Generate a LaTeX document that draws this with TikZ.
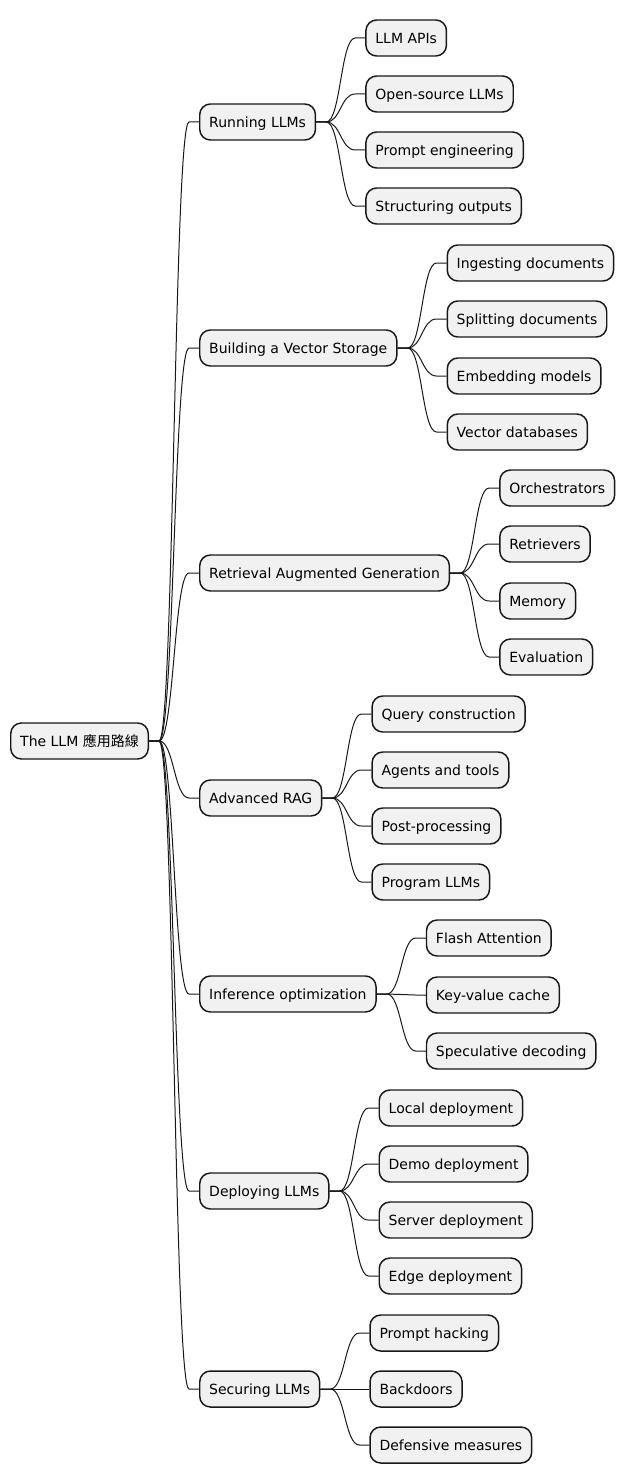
\documentclass[tikz,border=0pt]{standalone}
\usepackage{fontspec}
\setmainfont{DejaVu Sans}
\newfontfamily\cjkfont{Noto Sans CJK TC}
\usetikzlibrary{calc}

\definecolor{nodefill}{HTML}{F1F1F1}
\definecolor{nodeline}{HTML}{181818}

\tikzset{
  topic/.style={draw=nodeline, fill=nodefill, line width=1.1pt, rounded corners=8pt,
    anchor=west, minimum height=27pt, inner xsep=7.1pt, inner ysep=0pt,
    text height=7.65pt, text depth=0pt,
    font=\fontsize{10.5}{12}\selectfont},
  link/.style={draw=nodeline, line width=0.75pt},
}

% connector: short stub, S-curve, short stub
\newcommand\branch[2]{%
  \draw[link] (#1.east) -- ++(10,0)
    let \p1=($(#1.east)+(10,0)$), \p2=($(#2.west)+(-10,0)$) in
    .. controls ({(\x1+\x2)/2},\y1) and ({(\x1+\x2)/2},\y2) .. (\p2) -- (#2.west);
}

\begin{document}
\begin{tikzpicture}[x=0.75pt, y=-0.75pt]
  \useasboundingbox (0,0) rectangle (627,1484);

  % root
  \node[topic] (root) at (10,741) {The LLM {\cjkfont 應用路線}};
  \coordinate (rootc) at ([xshift=50*0.75pt]root.east);

  % main branches
  \foreach \name/\y/\txt in {run/122/Running LLMs, vec/348/Building a Vector Storage,
      rag/573/Retrieval Augmented Generation, adv/798/Advanced RAG,
      inf/994/Inference optimization, dep/1191/Deploying LLMs, sec/1389/Securing LLMs}
    \node[topic] (\name) at (rootc |- 0,\y) {\txt};

  \foreach \name in {run, vec, rag, adv, inf, dep, sec}
    \coordinate (\name c) at ([xshift=49*0.75pt]\name.east);

  % leaves
  \foreach \name/\y/\txt in {run1/38/LLM APIs, run2/94/Open-source LLMs,
      run3/150/Prompt engineering, run4/206/Structuring outputs}
    \node[topic] (\name) at (runc |- 0,\y) {\txt};
  \foreach \name/\y/\txt in {vec1/263/Ingesting documents, vec2/319/Splitting documents,
      vec3/376/Embedding models, vec4/432/Vector databases}
    \node[topic] (\name) at (vecc |- 0,\y) {\txt};
  \foreach \name/\y/\txt in {rag1/488/Orchestrators, rag2/544/Retrievers,
      rag3/601/Memory, rag4/657/Evaluation}
    \node[topic] (\name) at (ragc |- 0,\y) {\txt};
  \foreach \name/\y/\txt in {adv1/714/Query construction, adv2/770/Agents and tools,
      adv3/826/Post-processing, adv4/882/Program LLMs}
    \node[topic] (\name) at (advc |- 0,\y) {\txt};
  \foreach \name/\y/\txt in {inf1/938/Flash Attention, inf2/995/Key-value cache,
      inf3/1051/Speculative decoding}
    \node[topic] (\name) at (infc |- 0,\y) {\txt};
  \foreach \name/\y/\txt in {dep1/1108/Local deployment, dep2/1164/Demo deployment,
      dep3/1220/Server deployment, dep4/1276/Edge deployment}
    \node[topic] (\name) at (depc |- 0,\y) {\txt};
  \foreach \name/\y/\txt in {sec1/1333/Prompt hacking, sec2/1389/Backdoors,
      sec3/1445/Defensive measures}
    \node[topic] (\name) at (secc |- 0,\y) {\txt};

  % connectors
  \foreach \name in {run, vec, rag, adv, inf, dep, sec}
    \branch{root}{\name};
  \foreach \name in {run1, run2, run3, run4} \branch{run}{\name};
  \foreach \name in {vec1, vec2, vec3, vec4} \branch{vec}{\name};
  \foreach \name in {rag1, rag2, rag3, rag4} \branch{rag}{\name};
  \foreach \name in {adv1, adv2, adv3, adv4} \branch{adv}{\name};
  \foreach \name in {inf1, inf2, inf3} \branch{inf}{\name};
  \foreach \name in {dep1, dep2, dep3, dep4} \branch{dep}{\name};
  \foreach \name in {sec1, sec2, sec3} \branch{sec}{\name};

\end{tikzpicture}
\end{document}
